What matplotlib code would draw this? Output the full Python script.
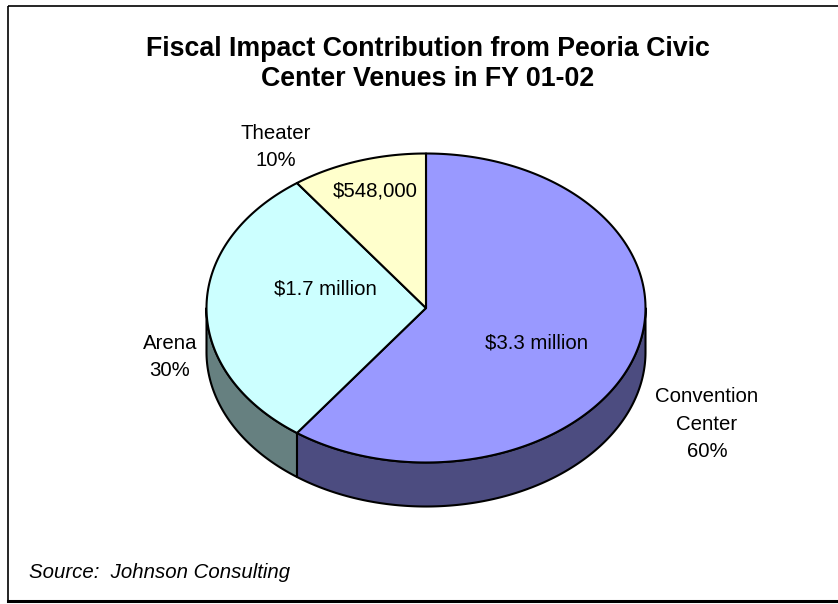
import matplotlib.pyplot as plt
import numpy as np
from matplotlib.patches import Rectangle

plt.rcParams["font.family"] = ["Liberation Sans", "DejaVu Sans"]

# data, in the order Excel draws it (clockwise from 12 o'clock)
venues = ["Convention\nCenter", "Arena", "Theater"]
shares = [60, 30, 10]
amounts = ["$3.3 million", "$1.7 million", "$548,000"]

top_colors = ["#9999FF", "#CCFFFF", "#FFFFCC"]
side_colors = ["#4C4C80", "#668080", "#808066"]

# layout in pixel coordinates
CX, CY = 426.0, 308.0
RX, RY = 219.5, 154.5
DEPTH = 44.0
amount_pos = [(537, 343), (325, 289), (375, 191)]
name_pos = [(707, 424), (170, 357), (276, 147)]


def arc(t1, t2, dy=0.0, n=200):
    t = np.radians(np.linspace(t1, t2, n))
    return CX + RX * np.cos(t), CY - RY * np.sin(t) + dy


def slice_angles(values):
    frac = np.cumsum([0] + list(values)) / np.sum(values)
    return [(90 - 360 * frac[i + 1], 90 - 360 * frac[i]) for i in range(len(values))]


fig = plt.figure(figsize=(8.38, 6.04), dpi=100)
ax = fig.add_axes([0, 0, 1, 1])
ax.set_xlim(0, 838)
ax.set_ylim(604, 0)
ax.axis("off")

angles = slice_angles(shares)

# side walls (only the front half, angles between 180 and 360)
for (t1, t2), color in zip(angles, side_colors):
    for k in (-1, 0, 1):
        lo, hi = max(t1, -180 + 360 * k), min(t2, 360 * k)
        if hi <= lo:
            continue
        xt, yt = arc(lo, hi)
        xb, yb = arc(hi, lo, DEPTH)
        ax.fill(np.r_[xt, xb], np.r_[yt, yb], facecolor=color,
                edgecolor="black", linewidth=1.5, joinstyle="round")

# top faces
for (t1, t2), color in zip(angles, top_colors):
    xs, ys = arc(t1, t2)
    ax.fill(np.r_[CX, xs], np.r_[CY, ys], facecolor=color,
            edgecolor="black", linewidth=1.5, joinstyle="round")

for text, (x, y) in zip(amounts, amount_pos):
    ax.text(x, y, text, ha="center", va="center", fontsize=14.7)

for name, share, (x, y) in zip(venues, shares, name_pos):
    ax.text(x, y, f"{name}\n{share}%", ha="center", va="center",
            fontsize=14.7, linespacing=1.55)

ax.text(428, 64, "Fiscal Impact Contribution from Peoria Civic\nCenter Venues in FY 01-02",
        ha="center", va="center", fontsize=19.3, fontweight="bold", linespacing=1.22)

ax.text(29, 573, "Source:  Johnson Consulting", ha="left", va="center",
        fontsize=14.7, style="italic")

# chart frame, right edge runs off the picture
ax.add_patch(Rectangle((8, 6), 840, 595, fill=False, edgecolor="black",
                       linewidth=1.2, clip_on=False))
ax.plot([8, 838], [601, 601], color="black", linewidth=2.2)

fig.savefig("out.png", dpi=100)
